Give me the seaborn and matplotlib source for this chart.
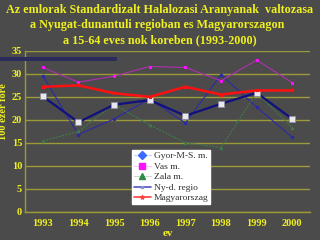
import matplotlib
matplotlib.use("Agg")
import matplotlib.pyplot as plt
import seaborn as sns
import pandas as pd
from matplotlib.lines import Line2D
from matplotlib.patches import Rectangle

years = ["1993", "1994", "1995", "1996", "1997", "1998", "1999", "2000"]
gyor = [29.6, 16.8, 20.2, 24.6, 19.3, 29.8, 22.8, 16.2]
vas = [31.4, 28.2, 29.5, 31.6, 31.4, 28.5, 33.0, 28.1]
zala = [15.4, 17.5, 23.4, 18.9, 15.0, 14.0, 25.9, 18.3]
nyd = [25.1, 19.5, 23.3, 24.3, 20.9, 23.5, 25.9, 20.2]
hun = [27.2, 27.5, 25.8, 25.0, 27.2, 25.5, 26.4, 26.4]
series_names = ["Gyor-M-S. m.", "Vas m.", "Zala m.", "Ny-d. regio", "Magyarorszag"]
yticks = [0, 5, 10, 15, 20, 25, 30, 35]

df = pd.DataFrame({"ev": list(range(len(years)))})

bg = "#4b4b4b"
yellow = "#f0f020"
gridc = "#9a9a38"

sns.set_theme(style="dark")
plt.rcParams["font.family"] = ["Liberation Serif", "DejaVu Serif"]

fig = plt.figure(figsize=(3.2, 2.4), dpi=100, facecolor=bg)
ax = fig.add_axes([0.078, 0.117, 0.891, 0.671])
ax.set_facecolor(bg)

styles = [
    (gyor, dict(color="#2a2aa8", lw=0.8, marker="o", ms=1.8, mec="#2a2aa8")),
    (vas, dict(color="#b030b0", lw=0.8, marker="s", ms=1.8, mfc="#ff10ff", mec="#ff10ff")),
    (zala, dict(color="#3f7a4a", lw=0.8, ls=(0, (2, 1)), marker="^", ms=1.8, mec="#3f7a4a")),
    (nyd, dict(color="#10107e", lw=1.6, marker="s", ms=4.5, mfc="#e8e8f0", mec="#9090a0", mew=0.6)),
    (hun, dict(color="#ff1010", lw=1.8, marker="*", ms=2.5, mec="#ff1010")),
]
for (vals, kw), name in zip(styles, series_names):
    d = df.copy()
    d["v"] = vals
    sns.lineplot(data=d, x="ev", y="v", ax=ax, legend=False, **kw)

ax.set_xlim(-0.5, len(years) - 0.5)
ax.set_ylim(0, 35)
ax.set_xticks(range(len(years)))
ax.set_xticklabels(years)
ax.set_yticks(yticks)
ax.grid(False)
for t in yticks:
    ax.axhline(t, color=gridc, lw=1.0, zorder=0.5)
for s in ["top", "right"]:
    ax.spines[s].set_visible(False)
ax.spines["left"].set_color(gridc)
ax.spines["bottom"].set_color(gridc)
ax.spines["left"].set_linewidth(1.0)
ax.spines["bottom"].set_linewidth(1.0)
ax.tick_params(axis="both", colors=yellow, labelsize=7.5, length=0, pad=2)
for lab in ax.get_xticklabels() + ax.get_yticklabels():
    lab.set_fontweight("bold")
    lab.set_color(yellow)
ax.tick_params(axis="x", pad=5)

ax.set_xlabel("ev", color=yellow, fontsize=8, fontweight="bold", labelpad=1)
ax.set_ylabel("100 ezer fore", color=yellow, fontsize=7.5, fontweight="bold", labelpad=1)
ax.yaxis.set_label_coords(-0.06, 0.62)

handles = [
    Line2D([], [], color="#c8d4ff", lw=0.8, marker="D", ms=4.5, mfc="#3a6aff", mec="#3a6aff"),
    Line2D([], [], color="#ffc8ff", lw=0.8, marker="s", ms=4.5, mfc="#ff10ff", mec="#ff10ff"),
    Line2D([], [], color="#c8dcc8", lw=0.8, marker="^", ms=4.5, mfc="#2f8a4a", mec="#2f8a4a"),
    Line2D([], [], color="#5050c0", lw=1.2, marker="x", ms=2, mec="#9090d0"),
    Line2D([], [], color="#ff4040", lw=1.2, marker="*", ms=3, mec="#ff4040"),
]
leg = ax.legend(handles, series_names, loc="upper left", bbox_to_anchor=(0.375, 0.385),
                fontsize=6.8, frameon=True, fancybox=False, framealpha=1,
                handlelength=1.8, handletextpad=0.3, labelspacing=0.2,
                borderpad=0.2, borderaxespad=0)
leg.get_frame().set_facecolor("white")
leg.get_frame().set_edgecolor("white")
for t in leg.get_texts():
    t.set_color("#303030")

fig.patches.append(Rectangle((0.0, 0.745), 0.365, 0.017, transform=fig.transFigure,
                             facecolor="#2c2c5c", edgecolor="none", zorder=0))

fig.text(0.5, 0.985, "Az emlorak Standardizalt Halalozasi Aranyanak  valtozasa\n"
         "a Nyugat-dunantuli regioban es Magyarorszagon  \n"
         "a 15-64 eves nok koreben (1993-2000)",
         ha="center", va="top", color=yellow, fontsize=8.7, fontweight="bold",
         linespacing=1.35)

fig.savefig("out.png", dpi=100, facecolor=bg)
